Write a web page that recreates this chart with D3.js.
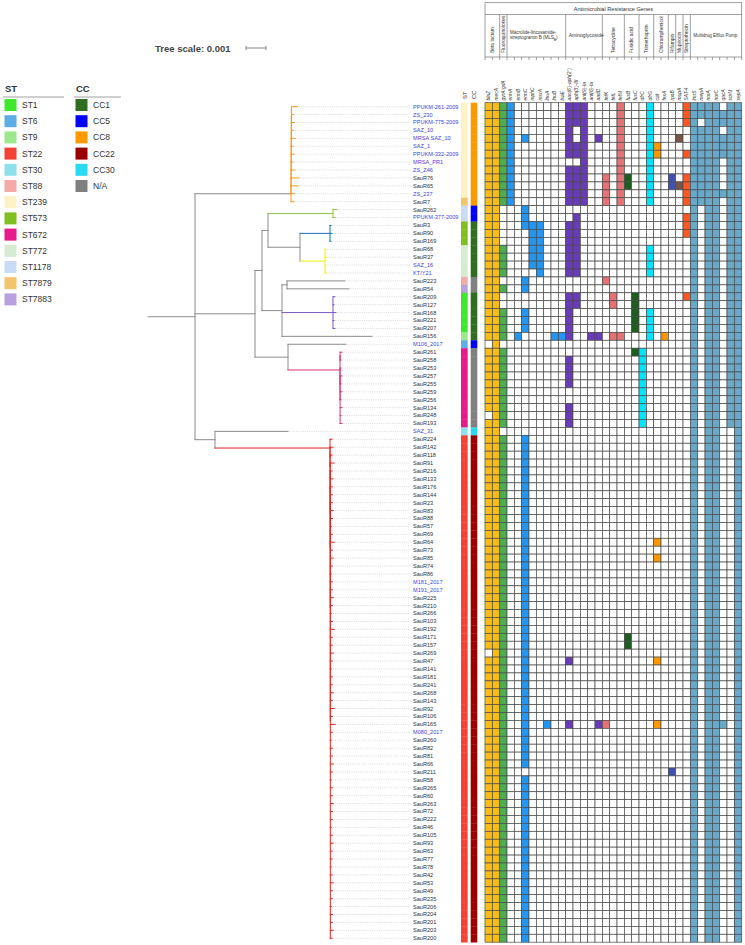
<!DOCTYPE html>
<html><head><meta charset="utf-8">
<script src="https://cdn.jsdelivr.net/npm/d3@7"></script>
<style>body{margin:0;background:#fff}svg{display:block}text{font-family:"Liberation Sans",Arial,sans-serif}</style>
</head><body><svg id="c" width="745" height="945"></svg>
<script>
// ---------------- DATA ----------------
const tipLabels = ["PPUKM-261-2009","ZS_230","PPUKM-775-2009","SAZ_10","MRSA SAZ_10","SAZ_1","PPUKM-332-2009","MRSA_PR1","ZS_Z46","SauR76","SauR65","ZS_237","SauR7","SauR262","PPUKM-377-2009","SauR3","SauR90","SauR169","SauR68","SauR37","SAZ_16","KT/Y21","SauR223","SauR54","SauR209","SauR127","SauR168","SauR221","SauR207","SauR156","M106_2017","SauR261","SauR258","SauR253","SauR257","SauR255","SauR259","SauR256","SauR134","SauR248","SauR193","SAZ_31","SauR224","SauR142","SauR118","SauR91","SauR216","SauR133","SauR176","SauR144","SauR23","SauR83","SauR88","SauR57","SauR69","SauR64","SauR73","SauR85","SauR74","SauR86","M181_2017","M191_2017","SauR225","SauR210","SauR266","SauR103","SauR192","SauR171","SauR157","SauR269","SauR47","SauR141","SauR181","SauR241","SauR268","SauR143","SauR92","SauR106","SauR165","M080_2017","SauR260","SauR82","SauR81","SauR66","SauR211","SauR58","SauR265","SauR60","SauR263","SauR72","SauR222","SauR46","SauR105","SauR93","SauR63","SauR77","SauR78","SauR42","SauR53","SauR49","SauR235","SauR206","SauR204","SauR201","SauR203","SauR200"];
const publicGenomes = ["PPUKM-261-2009","ZS_230","PPUKM-775-2009","SAZ_10","MRSA SAZ_10","SAZ_1","PPUKM-332-2009","MRSA_PR1","ZS_Z46","ZS_237","PPUKM-377-2009","SAZ_16","KT/Y21","M106_2017","SAZ_31","M181_2017","M191_2017","M080_2017"];

// tree (Newick, tip names = row index)
const cc8Clade = "((((((((((((0:0.0003,1:0.0001):0.000002,2:0.00015):0.000002,3:0.0001):0.000002,4:0.0002):0.000002,5:0.0001):0.000002,6:0.00015):0.000002,7:0.0001):0.000002,8:0.0002):0.000002,9:0.0004):0.000002,10:0.00035):0.000002,11:0.0002):0.000002,12:0.00015)";
const cc5Clade = "(13:0.0002,14:0.0001)";
const st573Clade = "(15:0.00005,16:0.0001,17:0.00005)";
const st772Clade = "(18:0.00005,19:0.0001,20:0.00005,21:0.0001)";
const st1Clade = "(24:0.0001,25:0.00005,26:0.00015,27:0.00005,28:0.0001)";
const st672Clade = "((31:0.0001,32:0.00005):0.000002,(33:0.00005,(34:0.0001,35:0.00005,36:0.0001,37:0.00005,38:0.0001,39:0.00005,40:0.0001):0.000002):0.000002)";
const cc22Clade = "(42:0.0001,(43:0.00015,(44:0.0001,(45:0.0002,(46:0.0001,(47:0.00015,(48:0.0001,(49:0.0001,(50:0.0001,51:0.00015,52:0.0001,53:0.00005,54:0.0001,55:0.0002,56:0.0001,57:0.00015,58:0.0001,59:0.00005,60:0.0001,61:0.0001,62:0.00015,63:0.0001,64:0.00005,65:0.0001,66:0.0002,67:0.0001,68:0.0001,69:0.00015,70:0.0001,71:0.00005,72:0.0001,73:0.0001,74:0.00015,75:0.0001,76:0.0002,77:0.0001,78:0.00025,79:0.0001,80:0.00005,81:0.0001,82:0.0001,83:0.00015,84:0.0001,85:0.00005,86:0.0001,87:0.0001,88:0.00015,89:0.0001,90:0.0001,91:0.00005,92:0.0001,93:0.00015,94:0.0001,95:0.0001,96:0.00005,97:0.0001,98:0.00015,99:0.0001,100:0.0001,101:0.00005,102:0.0001,103:0.0001,104:0.00015,105:0.0001):0.000002):0.000002):0.000002):0.000002):0.000002):0.000002):0.000002):0.000002)";
const treeNewick = "(" + cc8Clade + ":0.0048,(((" + cc5Clade + ":0.00325,(" + st573Clade + ":0.0015," + st772Clade + ":0.00125):0.0016):0.0003,((22:0.0029,23:0.0031):0.00025," + st1Clade + ":0.00255,29:0.0045):0.001):0.00035,(30:0.0029," + st672Clade + ":0.0026):0.00165):0.003,(41:0.00365," + cc22Clade + ":0.00575):0.001):0.00235;";

// coloured clades (row ranges)
const cladeColors = ["#f39a1e","#8cc63f","#1e6ec8","#f2ec1a","#7c56c6","#d8347a","#e3241f"];
const cladeFirst  = [0,13,15,18,24,31,42];
const cladeLast   = [12,14,17,21,28,40,105];
const cladeStemColored = [false,true,true,true,true,true,true];

// ST / CC
const stNames  = ["ST1","ST6","ST9","ST22","ST30","ST88","ST239","ST573","ST672","ST772","ST1178","ST7879","ST7883"];
const stColors = ["#3fe82c","#5dade6","#9be88d","#f44336","#8ee1ec","#f5a9a9","#fdf1c6","#7fbf20","#e8198b","#d5ecd2","#c9dbf5","#f3c46c","#b8a1de"];
const ccNames  = ["CC1","CC5","CC8","CC22","CC30","N/A"];
const ccColors = ["#2f6e1f","#0000ff","#ff9900","#990000","#2bd9f2","#808080"];
const stRuns = [["ST239",0,11],["ST7879",12,12],["ST1178",13,14],["ST573",15,17],["ST772",18,21],["ST88",22,22],["ST7883",23,23],["ST1",24,28],["ST9",29,29],["ST6",30,30],["ST672",31,40],["ST30",41,41],["ST22",42,105]];
const ccRuns = [["CC8",0,12],["CC5",13,14],["CC1",15,21],["N/A",22,23],["CC1",24,29],["CC5",30,30],["N/A",31,40],["CC30",41,41],["CC22",42,105]];

// resistance genes
const genes = ["blaZ","mecA","gyrA/grlA","ermA","ermB","ermC","mphC","msrA","lnuA","lnuB","lsaE","aac(6')-aph(2'')","aph(3')-III","ant(9)-Ia","ant(6)-Ia","aadD","tetK","tetL","tetM","fusB","fusC","dfrC","dfrG","cat","fexA","rpoB","mupA","SAT-4","lmrS","mepA","norA","norC","qacA","sdrM","sepA"];
const groupNames  = ["Beta lactam","Fluoroquinolones","Macrolide-lincosamide-|streptogramin B (MLS","Aminoglycoside","Tetracycline","Fusidic acid","Trimethoprim","Chloramphenicol","Rifampin","Mupirocin","Streptothricin","Multidrug Efflux Pump"];
const groupSizes  = [2,1,8,5,3,2,2,2,1,1,1,7];
const groupColors = ["#fcbd13","#4cae50","#2196f3","#6a3bb8","#e57373","#1b5e20","#00e5ff","#ff9800","#3f51b5","#795548","#ff5722","#68a8c8"];
// presence: row ranges per gene, grouped by class
const betaLactamHits = [[[0,29],[31,38],[40,68],[70,105]], [[0,105]]];
const fluoroquinoloneHits = [[[0,12],[18,21],[23,23],[26,29],[31,40],[42,105]]];
const mlsbHits = [[[0,12]], [[29,29]], [[4,4],[13,15],[22,23],[26,28],[42,83],[85,105]], [[15,20]], [[15,21]], [[78,78]], [[29,29]], [[29,29]]];
const aminoglycosideHits = [[[0,6],[8,12],[15,21],[24,29],[32,35],[38,40],[70,70],[78,78]], [[0,2],[5,6],[8,12],[14,21],[24,25]], [[0,12]], [[29,29]], [[4,4],[29,29],[78,78]]];
const tetracyclineHits = [[[9,12],[22,22],[78,78]], [[24,25],[29,29]], [[0,12],[29,29]]];
const fusidicHits = [[[9,10],[67,68]], [[24,28],[31,31]]];
const trimethoprimHits = [[[31,40]], [[0,12],[18,21],[26,29]]];
const chloramphenicolHits = [[[5,6],[55,55],[57,57],[70,70],[78,78]], [[29,29]]];
const rifampinHits = [[[9,10],[84,84]]];
const mupirocinHits = [[[4,4],[10,10]]];
const streptothricinHits = [[[0,2],[6,6],[9,12],[14,16],[24,24]]];
const effluxHits = [[[0,105]], [[0,1],[3,12]], [[0,105]], [[0,105]], [[1,2],[4,6],[11,11],[78,78]], [[0,40]], [[0,105]]];
const treeScaleValue = 0.001;

// ---------------- DRAW ----------------
const svg = d3.select("#c");
const nRows = tipLabels.length;
const rowY = d3.scaleBand().domain(d3.range(nRows)).range([102.7, 942.2]);
const cy = r => rowY(r) + rowY.bandwidth() / 2;
const colX = d3.scaleBand().domain(genes).range([485, 741.7]);
const treeX = d3.scaleLinear().domain([0, 0.001]).range([148, 168]);
const gray = "#8c8c8c";

function parseNewick(s) {
  let i = 0;
  function node() {
    const n = {};
    if (s[i] === "(") {
      i++; n.children = [node()];
      while (s[i] === ",") { i++; n.children.push(node()); }
      i++;
    }
    let name = ""; while (i < s.length && !",():;".includes(s[i])) name += s[i++];
    n.name = name.trim();
    n.length = 0;
    if (s[i] === ":") { i++; let num = ""; while (i < s.length && !",();".includes(s[i])) num += s[i++]; n.length = +num; }
    return n;
  }
  return node();
}

const root = d3.hierarchy(parseNewick(treeNewick));
root.dist = root.data.length;
root.eachBefore(n => { if (n.parent) n.dist = n.parent.dist + n.data.length; });
root.eachAfter(n => {
  if (!n.children) { n.row = +n.data.name; n.yy = cy(n.row); n.rows = [n.row]; }
  else { n.yy = (n.children[0].yy + n.children[n.children.length - 1].yy) / 2; n.rows = [].concat(...n.children.map(c => c.rows)); }
  n.clade = -1;
  cladeFirst.forEach((f, k) => { if (n.rows.every(r => r >= f && r <= cladeLast[k])) n.clade = k; });
});

const gTree = svg.append("g").attr("fill", "none").attr("stroke-width", 1).attr("stroke-linecap", "square");
gTree.append("line").attr("x1", treeX(0)).attr("x2", treeX(root.dist)).attr("y1", root.yy).attr("y2", root.yy).attr("stroke", gray);
root.descendants().forEach(n => {
  if (n.parent) {
    let col = gray;
    if (n.clade >= 0) {
      const isCladeRoot = n.parent.clade !== n.clade;
      if (!isCladeRoot || cladeStemColored[n.clade]) col = cladeColors[n.clade];
    }
    gTree.append("line").attr("x1", treeX(n.parent.dist)).attr("x2", treeX(n.dist)).attr("y1", n.yy).attr("y2", n.yy).attr("stroke", col);
  }
  if (n.children) {
    gTree.append("line").attr("x1", treeX(n.dist)).attr("x2", treeX(n.dist))
      .attr("y1", n.children[0].yy).attr("y2", n.children[n.children.length - 1].yy)
      .attr("stroke", n.clade >= 0 ? cladeColors[n.clade] : gray);
  }
});
root.leaves().forEach(n => {
  svg.append("line").attr("x1", treeX(n.dist) + 1.5).attr("x2", 410).attr("y1", n.yy).attr("y2", n.yy)
    .attr("stroke", "#b5b5b5").attr("stroke-width", 0.5).attr("stroke-dasharray", "1,1.2");
});
svg.append("g").selectAll("text").data(tipLabels).join("text")
  .attr("x", 413).attr("y", (d, i) => cy(i)).attr("dy", "0.35em")
  .attr("font-size", 5.6).attr("fill", d => publicGenomes.includes(d) ? "#3f3fe6" : "#333")
  .text(d => d);

// tree scale
const sbX = 246;
svg.append("text").attr("x", 155).attr("y", 51.5).attr("font-size", 9.5).attr("font-weight", "bold").attr("fill", "#444").text("Tree scale: " + treeScaleValue);
const sbLen = treeX(treeScaleValue) - treeX(0);
const sb = svg.append("g").attr("stroke", "#666").attr("stroke-width", 0.8);
sb.append("line").attr("x1", sbX).attr("x2", sbX + sbLen).attr("y1", 48).attr("y2", 48);
sb.append("line").attr("x1", sbX).attr("x2", sbX).attr("y1", 46).attr("y2", 50);
sb.append("line").attr("x1", sbX + sbLen).attr("x2", sbX + sbLen).attr("y1", 46).attr("y2", 50);

// ST / CC strips
function runsToRows(runs) { const a = []; runs.forEach(([k, s, e]) => { for (let r = s; r <= e; r++) a.push({ r, k }); }); return a; }
const stColor = d3.scaleOrdinal(stNames, stColors);
const ccColor = d3.scaleOrdinal(ccNames, ccColors);
svg.append("g").selectAll("rect").data(runsToRows(stRuns)).join("rect")
  .attr("x", 461).attr("width", 6.7).attr("y", d => rowY(d.r)).attr("height", rowY.bandwidth() + 0.3).attr("fill", d => stColor(d.k));
svg.append("g").selectAll("rect").data(runsToRows(ccRuns)).join("rect")
  .attr("x", 470.7).attr("width", 6.6).attr("y", d => rowY(d.r)).attr("height", rowY.bandwidth() + 0.3).attr("fill", d => ccColor(d.k));
[["ST", 466.5], ["CC", 476]].forEach(([t, x]) => {
  svg.append("text").attr("transform", `translate(${x},99) rotate(-90)`).attr("font-size", 6).attr("fill", "#333").text(t);
});

// heatmap
const allHits = [betaLactamHits, fluoroquinoloneHits, mlsbHits, aminoglycosideHits, tetracyclineHits, fusidicHits, trimethoprimHits, chloramphenicolHits, rifampinHits, mupirocinHits, streptothricinHits, effluxHits];
const geneGroup = [], geneHits = [];
allHits.forEach((grp, gi) => grp.forEach(h => { geneGroup.push(gi); geneHits.push(h); }));
const cells = [];
genes.forEach((g, gi) => {
  for (let r = 0; r < nRows; r++) {
    const on = geneHits[gi].some(([s, e]) => r >= s && r <= e);
    cells.push({ g, r, fill: on ? groupColors[geneGroup[gi]] : "#fff" });
  }
});
svg.append("g").selectAll("rect").data(cells).join("rect")
  .attr("x", d => colX(d.g)).attr("y", d => rowY(d.r))
  .attr("width", colX.bandwidth()).attr("height", rowY.bandwidth())
  .attr("fill", d => d.fill).attr("stroke", "#4a4a4a").attr("stroke-width", 0.7);

// header
const hx0 = colX.range()[0], hx1 = colX.range()[1];
const hdr = svg.append("g").attr("stroke", "#777").attr("stroke-width", 0.7).attr("fill", "none");
hdr.append("rect").attr("x", hx0).attr("y", 2.7).attr("width", hx1 - hx0).attr("height", 54.3);
hdr.append("line").attr("x1", hx0).attr("x2", hx1).attr("y1", 14.5).attr("y2", 14.5);
svg.append("text").attr("x", (hx0 + hx1) / 2).attr("y", 10.6).attr("text-anchor", "middle").attr("font-size", 5.6).attr("fill", "#333").text("Antimicrobial Resistance Genes");
let gStart = 0;
groupNames.forEach((name, gi) => {
  const first = genes[gStart], last = genes[gStart + groupSizes[gi] - 1];
  const x0 = colX(first), x1 = colX(last) + colX.bandwidth();
  if (gi > 0) hdr.append("line").attr("x1", x0).attr("x2", x0).attr("y1", 14.5).attr("y2", 57);
  if (groupSizes[gi] <= 3) {
    svg.append("text").attr("transform", `translate(${(x0 + x1) / 2 + 1.7},53) rotate(-90)`)
      .attr("font-size", 4.9).attr("fill", "#333").text(name);
  } else {
    const lines = name.split("|");
    const fs = groupSizes[gi] >= 7 ? 4.5 : 5;
    const t = svg.append("text").attr("x", x0 + 3).attr("font-size", fs).attr("fill", "#333");
    lines.forEach((ln, li) => {
      t.append("tspan").attr("x", x0 + 3).attr("y", 36.5 - (lines.length - 1) * 2.4 + li * 5.2).text(ln);
      if (ln.endsWith("(MLS")) { t.append("tspan").attr("font-size", 3.5).attr("dy", 1.2).text("B"); t.append("tspan").attr("dy", -1.2).text(")"); }
    });
  }
  gStart += groupSizes[gi];
});
genes.forEach(g => {
  hdr.append("line").attr("x1", colX(g)).attr("x2", colX(g)).attr("y1", 57).attr("y2", 60);
});
hdr.append("line").attr("x1", hx1).attr("x2", hx1).attr("y1", 57).attr("y2", 60);
svg.append("g").selectAll("text").data(genes).join("text")
  .attr("transform", g => `translate(${colX(g) + colX.bandwidth() / 2 + 1.7},100.5) rotate(-90)`)
  .attr("font-size", 4.9).attr("font-style", "italic").attr("fill", "#333").text(g => g);

// legends
function legend(x, title, names, colors) {
  const g = svg.append("g");
  g.append("text").attr("x", x + 2).attr("y", 92).attr("font-size", 9.5).attr("font-weight", "bold").attr("fill", "#333").text(title);
  g.append("line").attr("x1", x).attr("x2", x + (title === "ST" ? 61 : 47)).attr("y1", 97).attr("y2", 97).attr("stroke", "#888").attr("stroke-width", 0.8);
  names.forEach((n, i) => {
    const yc = 105 + i * 16.2;
    g.append("rect").attr("x", x + 1.5).attr("y", yc - 6).attr("width", 12).attr("height", 12).attr("fill", colors[i]);
    g.append("text").attr("x", x + 19).attr("y", yc).attr("dy", "0.35em").attr("font-size", 8.5).attr("fill", "#333").text(n);
  });
}
legend(3, "ST", stNames, stColors);
legend(74, "CC", ccNames, ccColors);
</script></body></html>
